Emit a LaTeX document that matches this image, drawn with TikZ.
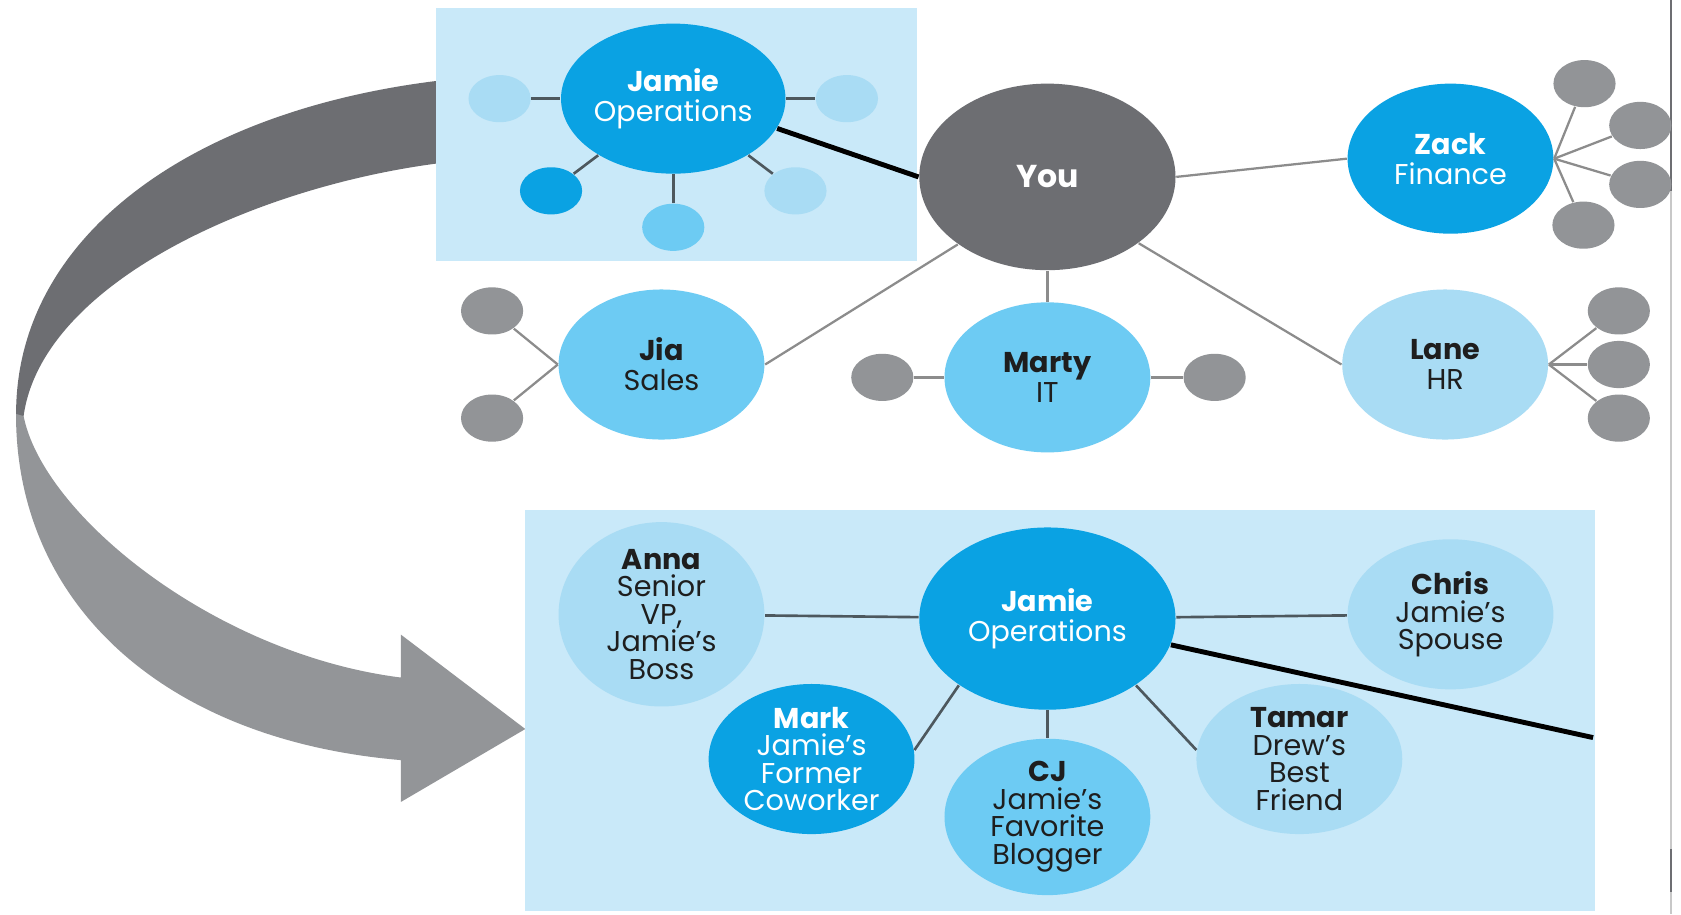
\documentclass[tikz,border=0pt]{standalone}
\usepackage{fontspec}
\setmainfont{Poppins}
\usetikzlibrary{shapes.geometric}
\definecolor{nbox}{HTML}{C9E9F9}
\definecolor{nbright}{HTML}{0AA2E3}
\definecolor{nmid}{HTML}{6DCBF3}
\definecolor{nlight}{HTML}{A9DCF4}
\definecolor{nyou}{HTML}{6D6E72}
\definecolor{nsat}{HTML}{929497}
\definecolor{nline}{HTML}{8C8C8C}
\definecolor{nlink}{HTML}{4D585E}
\definecolor{ntext}{HTML}{1E1E1E}
\definecolor{nedge}{HTML}{C8C8C8}
\definecolor{narrowdk}{HTML}{6D6E72}
\definecolor{narrowlt}{HTML}{939598}
\newcommand{\nfont}{\fontsize{7.6}{8}\selectfont}
\newcommand{\nsmall}{\fontsize{7.6}{7.3}\selectfont}

\begin{document}
\begin{tikzpicture}[x=0.1mm,y=-0.1mm,font=\nfont,
  bub/.style={ellipse,inner sep=0,align=center,minimum width=19.2mm,minimum height=14mm},
  bigbub/.style={ellipse,inner sep=0,align=center,minimum width=23.9mm,minimum height=17.4mm},
  satdot/.style={ellipse,inner sep=0,minimum width=5.8mm,minimum height=4.4mm},
  wl/.style={text=white},
  dl/.style={text=ntext,font=\nsmall}]
\useasboundingbox (0,0) rectangle (1568,853);
\fill[white] (0,0) rectangle (1568,853);
% curved arrow
\fill[narrowlt] (15,381) .. controls (12,560) and (150,690) .. (374,709) -- (374,748) -- (490,680) -- (374,592) -- (374,632) .. controls (200,610) and (40,480) .. (22,388) -- cycle;
\fill[narrowdk] (420,74) .. controls (180,100) and (15,220) .. (15,386) -- (22,388) .. controls (40,260) and (250,170) .. (420,151) -- cycle;
% panels
\fill[nbox] (407,7) rectangle (855,243);
\fill[nbox] (490,476) rectangle (1488,850);
\draw[nedge,line width=0.5pt] (1559,0) -- (1559,853);
\draw[nyou,line width=0.6pt] (1559,0) -- (1559,178);
\draw[nyou,line width=0.6pt] (1559,792) -- (1559,832);
% top panel
\node[bub,fill=nbright,wl] (jamieT) at (628,92) {\textbf{Jamie}\\Operations};
\node[satdot,fill=nlight] (jt1) at (466,92) {};
\node[satdot,fill=nlight] (jt2) at (790,92) {};
\node[satdot,fill=nbright] (jt3) at (514,178) {};
\node[satdot,fill=nmid] (jt4) at (628,212) {};
\node[satdot,fill=nlight] (jt5) at (742,178) {};
% your network
\node[bigbub,fill=nyou,wl,font=\fontsize{8.4}{9}\selectfont\bfseries] (you) at (977,165) {You};
\node[bub,fill=nbright,wl] (zack) at (1353,148) {\textbf{Zack}\\Finance};
\node[bub,fill=nmid,text=ntext] (jia) at (617,340) {\textbf{Jia}\\Sales};
\node[bub,fill=nmid,text=ntext] (marty) at (977,352) {\textbf{Marty}\\IT};
\node[bub,fill=nlight,text=ntext] (lane) at (1348,340) {\textbf{Lane}\\HR};
\node[satdot,fill=nsat] (zs1) at (1478,78) {};
\node[satdot,fill=nsat] (zs2) at (1530,117) {};
\node[satdot,fill=nsat] (zs3) at (1530,172) {};
\node[satdot,fill=nsat] (zs4) at (1477,210) {};
\node[satdot,fill=nsat] (js1) at (459,290) {};
\node[satdot,fill=nsat] (js2) at (459,390) {};
\node[satdot,fill=nsat] (ms1) at (823,352) {};
\node[satdot,fill=nsat] (ms2) at (1133,352) {};
\node[satdot,fill=nsat] (ls1) at (1510,290) {};
\node[satdot,fill=nsat] (ls2) at (1510,340) {};
\node[satdot,fill=nsat] (ls3) at (1510,390) {};
% bottom panel
\node[bigbub,fill=nbright,wl,minimum height=17mm] (jamieB) at (977,577) {\textbf{Jamie}\\Operations};
\node[bub,fill=nlight,dl] (anna) at (617,573) {\textbf{Anna}\\Senior\\VP,\\Jamie’s\\Boss};
\node[bub,fill=nlight,dl] (chris) at (1353,573) {\textbf{Chris}\\Jamie’s\\Spouse};
\node[bub,fill=nbright,dl,text=white] (mark) at (757,708) {\textbf{Mark}\\Jamie’s\\Former\\Coworker};
\node[bub,fill=nmid,dl] (cj) at (977,762) {\textbf{CJ}\\Jamie’s\\Favorite\\Blogger};
\node[bub,fill=nlight,dl] (tamar) at (1212,708) {\textbf{Tamar}\\Drew’s\\Best\\Friend};
\coordinate (exitB) at (1486,688);
% links
\draw[nlink,line width=0.7pt] (jt1) -- (jamieT) -- (jt2);
\draw[nlink,line width=0.7pt] (jt3) -- (jamieT) -- (jt5);
\draw[nlink,line width=0.7pt] (jamieT.south) -- (jt4);
\draw[black,line width=1.3pt] (jamieT.-16) -- (you.west);
\draw[nline,line width=0.6pt] (you.east) -- (zack.west);
\draw[nline,line width=0.6pt] (you.217) -- (jia.east);
\draw[nline,line width=0.6pt] (you.south) -- (marty.north);
\draw[nline,line width=0.6pt] (you.-36) -- (lane.west);
\draw[nline,line width=0.6pt] (zack.east) -- (zs1); \draw[nline,line width=0.6pt] (zack.east) -- (zs2);
\draw[nline,line width=0.6pt] (zack.east) -- (zs3); \draw[nline,line width=0.6pt] (zack.east) -- (zs4);
\draw[nline,line width=0.6pt] (jia.west) -- (js1); \draw[nline,line width=0.6pt] (jia.west) -- (js2);
\draw[nline,line width=0.6pt] (ms1) -- (marty) -- (ms2);
\draw[nline,line width=0.6pt] (lane.east) -- (ls1); \draw[nline,line width=0.6pt] (lane.east) -- (ls2);
\draw[nline,line width=0.6pt] (lane.east) -- (ls3);
\draw[nlink,line width=0.7pt] (anna) -- (jamieB) -- (chris);
\draw[nlink,line width=0.7pt] (jamieB.217) -- (mark.5);
\draw[nlink,line width=0.7pt] (jamieB.south) -- (cj.north);
\draw[nlink,line width=0.7pt] (jamieB.-37) -- (tamar.175);
\draw[black,line width=1.3pt] (jamieB.-12) -- (exitB);
\end{tikzpicture}
\end{document}
